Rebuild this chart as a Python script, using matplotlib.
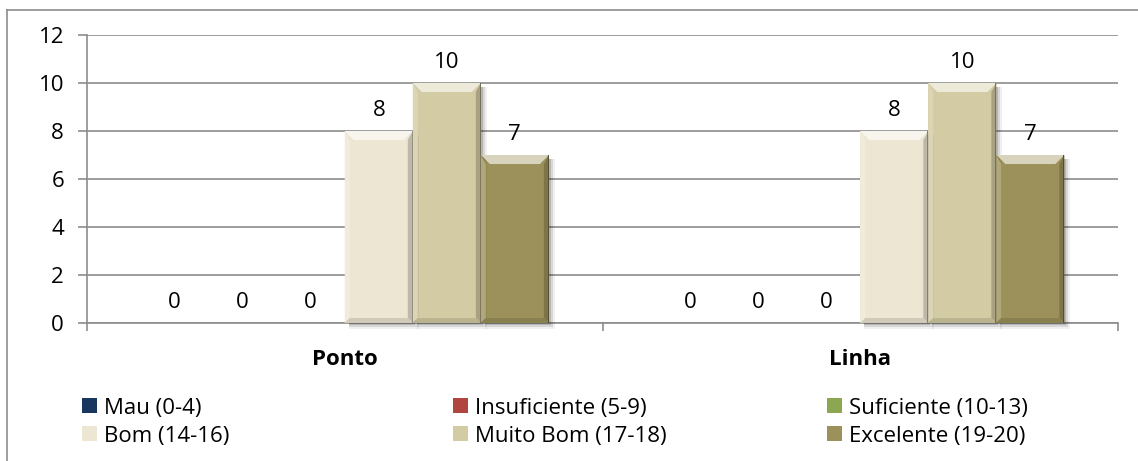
import matplotlib
matplotlib.use("Agg")
import matplotlib.pyplot as plt
from matplotlib.patches import Patch, Polygon
import numpy as np

plt.rcParams['font.family'] = ['Open Sans', 'DejaVu Sans']

categories = ['Ponto', 'Linha']
series = ['Mau (0-4)', 'Insuficiente (5-9)', 'Suficiente (10-13)',
          'Bom (14-16)', 'Muito Bom (17-18)', 'Excelente (19-20)']
values = {
    'Mau (0-4)':          [0, 0],
    'Insuficiente (5-9)': [0, 0],
    'Suficiente (10-13)': [0, 0],
    'Bom (14-16)':        [8, 8],
    'Muito Bom (17-18)':  [10, 10],
    'Excelente (19-20)':  [7, 7],
}
colors = ['#17375E', '#B0463F', '#8CA651', '#ECE6D2', '#D3CBA3', '#9C915A']

W, H = 1138, 461
fig = plt.figure(figsize=(W / 100, H / 100), dpi=100)
ax = fig.add_axes([87 / W, 1 - 323 / H, (1118 - 87) / W, (323 - 35) / H])

# chart frame (left + top edges visible)
fig.add_artist(plt.Line2D([7 / W, 7 / W], [0, 1 - 10 / H], transform=fig.transFigure,
                          color='#8c8c8c', lw=1.2))
fig.add_artist(plt.Line2D([7 / W, 1], [1 - 10 / H, 1 - 10 / H], transform=fig.transFigure,
                          color='#8c8c8c', lw=1.2))

x = np.arange(len(categories))
bw = 0.132
fs = 16

bars_all = []
for i, (name, c) in enumerate(zip(series, colors)):
    pos = x + (i - 2.5) * bw
    bars = ax.bar(pos, values[name], width=bw, color=c, edgecolor='none', zorder=3)
    bars_all.append((bars, c))
    for b, v in zip(bars, values[name]):
        ax.annotate(str(v), (b.get_x() + b.get_width() / 2, v), xytext=(0, 7),
                    textcoords='offset points', ha='center', va='bottom',
                    fontsize=fs, color='black')

ax.set_xlim(-0.5, 1.5)
ax.set_ylim(0, 12)
ax.set_yticks(range(0, 13, 2))
ax.yaxis.grid(True, color='#8c8c8c', lw=1.2, zorder=0)
ax.set_axisbelow(True)
for s in ['top', 'right']:
    ax.spines[s].set_visible(False)
for s in ['left', 'bottom']:
    ax.spines[s].set_color('#8c8c8c')
    ax.spines[s].set_linewidth(1.2)
ax.tick_params(axis='y', length=6.5, width=1.2, color='#8c8c8c', labelsize=fs, pad=10)
ax.set_xticks([-0.5, 0.5, 1.5])
ax.set_xticklabels([])
ax.tick_params(axis='x', length=6, width=1.2, color='#8c8c8c')
ax.set_xticks(x, minor=True)
ax.set_xticklabels(categories, minor=True, fontweight='bold', fontsize=fs)
ax.tick_params(axis='x', which='minor', length=0, pad=19)

# bevel + shadow effect derived from each drawn bar
fig.canvas.draw()
def shade(c, f):
    rgb = np.array(matplotlib.colors.to_rgb(c))
    if f > 0:
        return tuple(rgb + (1 - rgb) * f)
    return tuple(rgb * (1 + f))

inv = fig.transFigure.inverted()
def P(pts, col, z=4, a=1.0):
    p = Polygon(inv.transform(pts), closed=True, transform=fig.transFigure,
                facecolor=col, edgecolor='none', zorder=z, alpha=a)
    fig.add_artist(p)

for bars, c in bars_all:
    for b in bars:
        if b.get_height() <= 0:
            continue
        (x0, y0), (x1, y1) = ax.transData.transform(
            [(b.get_x(), 0), (b.get_x() + b.get_width(), b.get_height())])
        d = 9
        s = 5
        # soft shadow on the right and below
        for k, al in [(6, 0.06), (4, 0.10), (2, 0.15)]:
            P([(x1, y0 - k), (x1 + k, y0 - k), (x1 + k, y1 - 4), (x1, y1 - 4)], '#000000', 2, al)
            P([(x0 + 4, y0), (x1, y0), (x1, y0 - k), (x0 + 4, y0 - k)], '#000000', 2, al)
        P([(x0, y1), (x1, y1), (x1 - d, y1 - d), (x0 + d, y1 - d)], shade(c, 0.6))
        P([(x0, y0), (x0 + s, y0 + s), (x0 + s, y1 - d), (x0, y1)], shade(c, 0.2))
        P([(x1, y0), (x1 - s, y0 + s), (x1 - s, y1 - d), (x1, y1)], shade(c, -0.2))
        P([(x0, y0), (x1, y0), (x1 - s, y0 + s), (x0 + s, y0 + s)], shade(c, -0.12))
        P([(x1, y0), (x1, y1), (x1 - 1.2, y1), (x1 - 1.2, y0)], shade(c, -0.45))

# legend: one entry each, three columns by two rows
handles = [Patch(facecolor=c, edgecolor='none') for c in colors]
col_x = [82, 453, 827]
row_y = [408, 436]
for k, (h, lab) in enumerate(zip(handles, series)):
    cx, ry = col_x[k % 3], row_y[k // 3]
    fig.legend([h], [lab], loc='center left', bbox_to_anchor=(cx / W, 1 - ry / H),
               frameon=False, fontsize=fs, handlelength=0.68, handleheight=0.68,
               handletextpad=0.3, borderpad=0, borderaxespad=0)

fig.savefig('out.png', dpi=100)
